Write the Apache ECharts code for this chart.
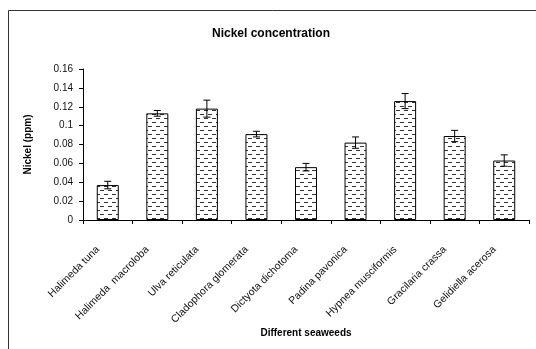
<!DOCTYPE html>
<html><head><meta charset="utf-8">
<script src="https://cdn.jsdelivr.net/npm/echarts@6/dist/echarts.min.js"></script>
<style>html,body{margin:0;padding:0;background:#fff}#c{width:536px;height:349px}</style>
</head><body><div id="c"></div>
<script>
var categories = ['Halimeda tuna','Halimeda  macroloba','Ulva reticulata','Cladophora glomerata','Dictyota dichotoma','Padina pavonica','Hypnea musciformis','Gracilaria crassa','Gelidiella acerosa'];
var values = [0.037, 0.113, 0.118, 0.091, 0.056, 0.082, 0.126, 0.089, 0.063];
var errors = [0.004, 0.003, 0.009, 0.003, 0.004, 0.006, 0.008, 0.006, 0.006];
var yTicks = [0, 0.02, 0.04, 0.06, 0.08, 0.1, 0.12, 0.14, 0.16];

var pc = document.createElement('canvas');
pc.width = 8; pc.height = 8;
var g = pc.getContext('2d');
g.fillStyle = '#fff'; g.fillRect(0,0,8,8);
g.fillStyle = '#333';
g.fillRect(0,2,4,1);
g.fillRect(4,6,4,1);

var chart = echarts.init(document.getElementById('c'), null, {renderer:'canvas'});
var font = 'Liberation Sans, Arial, sans-serif';
chart.setOption({
  animation:false,
  graphic:[{type:'rect',shape:{x:8.5,y:10.5,width:600,height:400},style:{fill:'none',stroke:'#333',lineWidth:1},z:-1}],
  title:{text:'Nickel concentration',left:266,top:23,textAlign:'center',textStyle:{fontFamily:font,fontSize:12,fontWeight:'bold',color:'#000'}},
  grid:{left:83,right:7,top:69,bottom:129},
  xAxis:{type:'category',data:categories,
    name:'Different seaweeds',nameLocation:'middle',nameGap:107,
    nameTextStyle:{fontFamily:font,fontSize:10,fontWeight:'bold',color:'#000'},
    axisLine:{lineStyle:{color:'#000',width:1}},
    axisTick:{show:true,length:4,lineStyle:{color:'#000'}},
    axisLabel:{rotate:45,fontFamily:font,fontSize:10.5,color:'#111',margin:18,padding:[0,14,0,0],interval:0}},
  yAxis:{type:'value',min:0,max:0.16,interval:0.02,
    name:'Nickel (ppm)',nameLocation:'middle',nameGap:50,nameRotate:90,
    nameTextStyle:{fontFamily:font,fontSize:10,fontWeight:'bold',color:'#000'},
    splitLine:{show:false},
    axisLine:{show:true,lineStyle:{color:'#000',width:1}},
    axisTick:{show:true,length:4,lineStyle:{color:'#000'}},
    axisLabel:{fontFamily:font,fontSize:10,color:'#111',margin:10,
      formatter:function(v){var i=yTicks.indexOf(Math.round(v*100)/100);return i>=0?String(yTicks[i]):'';}}},
  series:[{type:'bar',data:values,barWidth:22,
    itemStyle:{color:{image:pc,repeat:'repeat'},borderColor:'#000',borderWidth:1}},
   {type:'custom',data:values.map(function(v,i){return [i,v,errors[i]];}),z:10,
    renderItem:function(params,api){
      var x=api.coord([api.value(0),api.value(1)])[0];
      var t=api.coord([api.value(0),api.value(1)+api.value(2)])[1];
      var b=api.coord([api.value(0),api.value(1)-api.value(2)])[1];
      var w=3.5;
      var st={stroke:'#000',lineWidth:1};
      return {type:'group',children:[
        {type:'line',shape:{x1:x,y1:t,x2:x,y2:b},style:st},
        {type:'line',shape:{x1:x-w,y1:t,x2:x+w,y2:t},style:st},
        {type:'line',shape:{x1:x-w,y1:b,x2:x+w,y2:b},style:st}]};
    }}]
});
</script></body></html>
